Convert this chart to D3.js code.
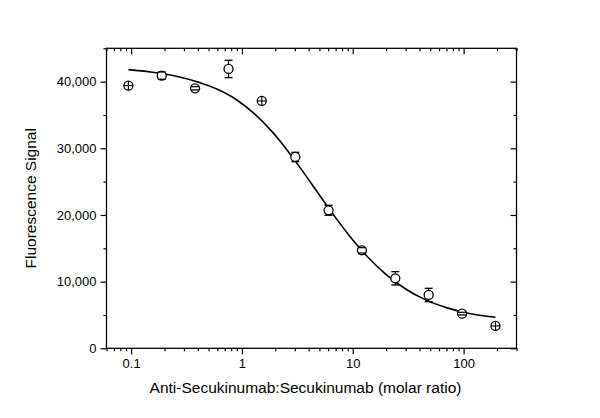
<!DOCTYPE html>
<html lang="en">
<head>
<meta charset="UTF-8" />
<title>Fluorescence Signal</title>
<style>
  body { margin: 0; background: #fff; }
  .chart text { font-family: "Liberation Sans", Arial, sans-serif; fill: #000; }
</style>
</head>
<body>
<div class="chart"></div>
<script src="https://d3js.org/d3.v7.min.js"></script>
<script>
// molar ratio (2-fold dilution series) and measured signal
const ratios = [0.0946, 0.189, 0.378, 0.757, 1.51, 3.03, 6.05, 12.1, 24.2, 48.4, 96.9, 193.8]
const signal = [39400, 40900, 39000, 41900, 37100, 28700, 20700, 14700, 10500, 8000, 5200, 3350]
const errors = [300, 550, 250, 1300, 300, 700, 750, 400, 1000, 1000, 200, 300]
// points shown with the crossed-circle symbol
const crossed = [true, false, false, false, true, false, false, false, false, false, false, true]

// fitted curve
const fitX = [0.0946, 0.15, 0.25, 0.4, 0.6, 0.9, 1.3, 1.8, 2.5, 3.5, 5, 7, 10, 14, 20, 30, 45, 70, 110, 193.8]
const fitY = [41800, 41450, 40850, 39950, 38850, 37250, 35150, 32800, 29950, 26650, 23000, 19600, 16250, 13500, 11050, 8900, 7300, 6100, 5250, 4650]

const xTickLabels = [0.1, 1, 10, 100]
const yTickLabels = [0, 10000, 20000, 30000, 40000]
const yMinorTicks = [5000, 15000, 25000, 35000, 45000]

const width = 600
const height = 418
const mLeft = 106.5, mRight = 516.5, mTop = 48.3, mBottom = 348.3

const svg = d3.select('.chart')
  .append('svg')
  .attr('width', width)
  .attr('height', height)

const x = d3.scaleLog().domain([0.06, 300]).range([mLeft, mRight])
const y = d3.scaleLinear().domain([0, 45000]).range([mBottom, mTop])

const xMinor = x.ticks().filter(t => xTickLabels.indexOf(t) < 0)
const fmt = d3.format(',')

// bottom axis
svg.append('g')
  .attr('transform', `translate(0, ${mBottom})`)
  .call(d3.axisBottom(x).tickValues(xTickLabels).tickFormat(d => d).tickSize(6).tickPadding(4))
svg.append('g')
  .attr('transform', `translate(0, ${mBottom})`)
  .call(d3.axisBottom(x).tickValues(xMinor).tickFormat('').tickSize(3))

// top axis, ticks inward
svg.append('g')
  .attr('transform', `translate(0, ${mTop})`)
  .call(d3.axisBottom(x).tickValues(xTickLabels).tickFormat('').tickSize(6))
svg.append('g')
  .attr('transform', `translate(0, ${mTop})`)
  .call(d3.axisBottom(x).tickValues(xMinor).tickFormat('').tickSize(3))

// left axis
svg.append('g')
  .attr('transform', `translate(${mLeft}, 0)`)
  .call(d3.axisLeft(y).tickValues(yTickLabels).tickFormat(fmt).tickSize(6).tickPadding(4))
svg.append('g')
  .attr('transform', `translate(${mLeft}, 0)`)
  .call(d3.axisLeft(y).tickValues(yMinorTicks).tickFormat('').tickSize(3))

// right axis, ticks inward
svg.append('g')
  .attr('transform', `translate(${mRight}, 0)`)
  .call(d3.axisLeft(y).tickValues(yTickLabels).tickFormat('').tickSize(6))
svg.append('g')
  .attr('transform', `translate(${mRight}, 0)`)
  .call(d3.axisLeft(y).tickValues(yMinorTicks).tickFormat('').tickSize(3))

svg.selectAll('.domain').remove()
svg.selectAll('.tick line').attr('stroke', '#000').attr('stroke-width', 1.2)
svg.selectAll('.tick text').style('font-size', '13px')

// frame
svg.append('rect')
  .attr('x', mLeft).attr('y', mTop)
  .attr('width', mRight - mLeft).attr('height', mBottom - mTop)
  .attr('fill', 'none').attr('stroke', '#000').attr('stroke-width', 1.3)

// fit line
const fit = fitX.map((d, i) => [d, fitY[i]])
svg.append('path')
  .datum(fit)
  .attr('d', d3.line().x(d => x(d[0])).y(d => y(d[1])).curve(d3.curveMonotoneX))
  .attr('fill', 'none')
  .attr('stroke', '#000')
  .attr('stroke-width', 1.6)

const pts = ratios.map((d, i) => ({ x: d, y: signal[i], e: errors[i], c: crossed[i] }))
const r = 4.5
const cap = 4

const g = svg.append('g')
  .selectAll('g')
  .data(pts)
  .join('g')
  .attr('transform', d => `translate(${x(d.x)}, 0)`)

const bars = g.filter(d => !d.c)

// error bar stems
bars.append('line')
  .attr('x1', 0).attr('x2', 0)
  .attr('y1', d => y(d.y + d.e)).attr('y2', d => y(d.y - d.e))
  .attr('stroke', '#000').attr('stroke-width', 1.2)

g.append('circle')
  .attr('cy', d => y(d.y))
  .attr('r', r)
  .attr('fill', '#fff')
  .attr('stroke', '#000')
  .attr('stroke-width', 1.3)

// caps
bars.selectAll('.cap')
  .data(d => [d.y + d.e, d.y - d.e])
  .join('line')
  .attr('class', 'cap')
  .attr('x1', -cap).attr('x2', cap)
  .attr('y1', d => y(d)).attr('y2', d => y(d))
  .attr('stroke', '#000').attr('stroke-width', 1.3)

// plus inside the crossed circles
const cr = g.filter(d => d.c)
cr.append('line')
  .attr('x1', -r).attr('x2', r)
  .attr('y1', d => y(d.y)).attr('y2', d => y(d.y))
  .attr('stroke', '#000').attr('stroke-width', 1.1)
cr.append('line')
  .attr('x1', 0).attr('x2', 0)
  .attr('y1', d => y(d.y) - r).attr('y2', d => y(d.y) + r)
  .attr('stroke', '#000').attr('stroke-width', 1.1)

// axis titles
svg.append('text')
  .attr('x', (mLeft + mRight) / 2 - 6)
  .attr('y', 393)
  .attr('text-anchor', 'middle')
  .style('font-size', '15.5px')
  .text('Anti-Secukinumab:Secukinumab (molar ratio)')

svg.append('text')
  .attr('transform', `translate(36, ${(mTop + mBottom) / 2}) rotate(-90)`)
  .attr('text-anchor', 'middle')
  .style('font-size', '15.5px')
  .text('Fluorescence Signal')
</script>
</body>
</html>
